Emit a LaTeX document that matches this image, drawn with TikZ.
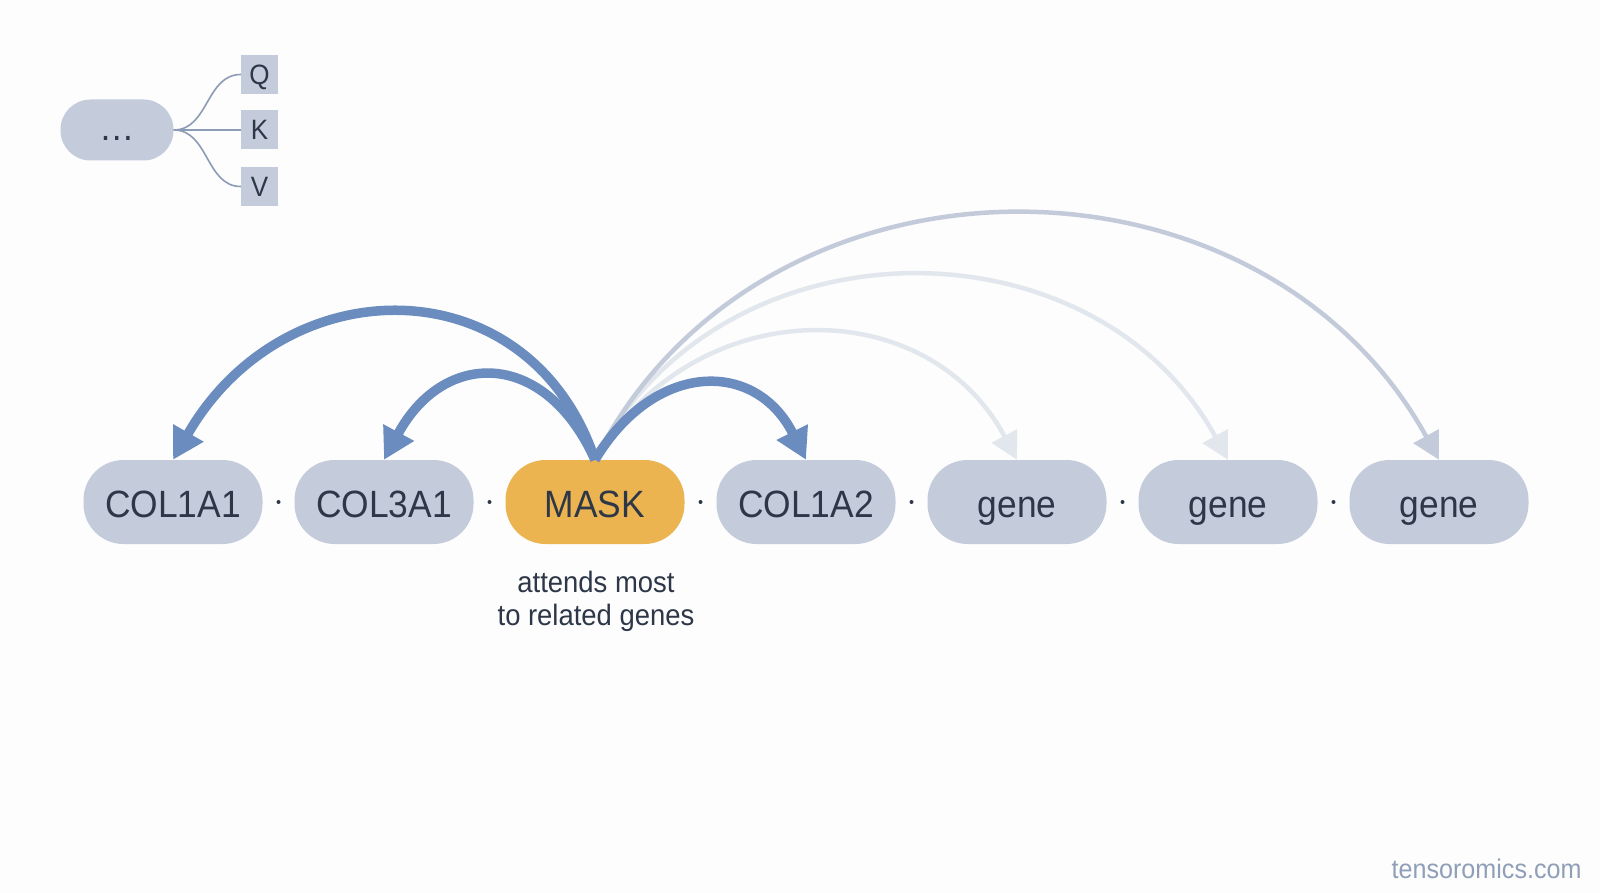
\documentclass[tikz,border=0pt]{standalone}
\usepackage{fontspec}
\setmainfont{Liberation Sans}[FakeStretch=0.93]
\usetikzlibrary{arrows.meta,calc}
\definecolor{bg}{HTML}{FDFDFD}
\definecolor{tokfill}{HTML}{C4CCDB}
\definecolor{maskfill}{HTML}{EBB450}
\definecolor{ink}{HTML}{2D3748}
\definecolor{attblue}{HTML}{6A8CBE}
\definecolor{attlight}{HTML}{E2E6ED}
\definecolor{attmid}{HTML}{C3CBDA}
\definecolor{linegray}{HTML}{8D9CB6}
\definecolor{urlgray}{HTML}{8F9FB8}
\begin{document}
\begin{tikzpicture}[x=1pt,y=-1pt,
  tok/.style={rectangle, rounded corners=40pt, minimum width=179pt, minimum height=84pt,
    inner sep=0pt, fill=tokfill, text=ink, font=\fontsize{38}{42}\selectfont,
    text height=30pt, text depth=0pt},
  masktok/.style={tok, fill=maskfill},
  qkvbox/.style={rectangle, minimum width=37pt, minimum height=39pt, inner sep=0pt,
    fill=tokfill, text=ink, font=\fontsize{28}{32}\selectfont, text height=20pt, text depth=0pt},
  pill/.style={rectangle, rounded corners=30pt, minimum width=113pt, minimum height=61pt,
    inner sep=0pt, fill=tokfill, text=ink, font=\fontsize{38}{42}\selectfont,
    text height=22pt, text depth=0pt},
  strong/.style={draw=attblue, line width=9.5pt, -{Triangle[length=31pt,width=33pt]}},
  faint/.style={draw=attlight, line width=4.5pt, -{Triangle[length=27pt,width=28pt]}},
  midarr/.style={faint, draw=attmid},
  qkvline/.style={draw=linegray, line width=1.6pt},
  caption/.style={text=ink, font=\fontsize{29.5}{34}\selectfont, anchor=base},
  urltext/.style={text=urlgray, font=\fontsize{27}{30}\selectfont, anchor=base east}
]
\fill[bg] (0,0) rectangle (1600,893);
\useasboundingbox (0,0) rectangle (1600,893);

% Q K V
\node[pill] (ell) at (117,130) {…};
\node[qkvbox] (q) at (259.5,74.5) {Q};
\node[qkvbox] (k) at (259.5,130) {K};
\node[qkvbox] (v) at (259.5,186.5) {V};
\draw[qkvline] (ell.east) .. controls +(35,0) and +(-35,0) .. (q.west);
\draw[qkvline] (ell.east) -- (k.west);
\draw[qkvline] (ell.east) .. controls +(35,0) and +(-35,0) .. (v.west);

% tokens
\node[tok] (n1) at (173,502) {COL1A1};
\node[tok] (n2) at (384,502) {COL3A1};
\node[masktok] (n3) at (595,502) {MASK};
\node[tok] (n4) at (806,502) {COL1A2};
\node[tok] (n5) at (1017,502) {gene};
\node[tok] (n6) at (1228,502) {gene};
\node[tok] (n7) at (1439,502) {gene};

\foreach \a/\b in {n1/n2,n2/n3,n3/n4,n4/n5,n5/n6,n6/n7}
  \fill[ink] ($(\a.east)!0.5!(\b.west)$) circle (2pt);

% weak attention
\draw[faint] (n3.north) .. controls +(100,-169) and +(-90,-169) .. (n5.north);
\draw[faint] (n3.north) .. controls +(125,-245) and +(-134,-245) .. (n6.north);
\draw[midarr] (n3.north) .. controls +(165,-327) and +(-180,-327) .. (n7.north);

% strong attention
\draw[strong] (n3.north) .. controls +(-65,-195) and +(112,-195) .. (n1.north);
\draw[strong] (n3.north) .. controls +(-50,-111) and +(60,-111) .. (n2.north);
\draw[strong] (n3.north) .. controls +(60,-100) and +(-50,-100) .. (n4.north);

% captions
\node[caption] (cap1) at (596,592) {attends most};
\node[caption] (cap2) at (596,625) {to related genes};
\node[urltext] (url) at (1585,878) {tensoromics.com};
\end{tikzpicture}
\end{document}
